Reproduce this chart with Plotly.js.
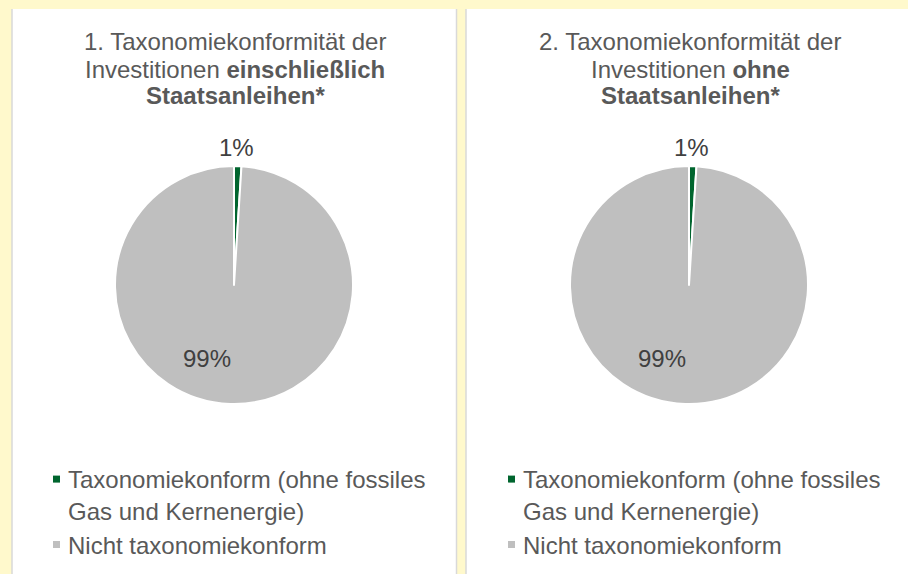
<!DOCTYPE html>
<html>
<head>
<meta charset="utf-8">
<script src="https://cdn.plot.ly/plotly-3.0.1.min.js"></script>
<style>html,body{margin:0;padding:0;background:#FFF9CC;}#chart{width:908px;height:574px;}</style>
</head>
<body>
<div id="chart"></div>
<script>
// Data
const categories = ["Taxonomiekonform (ohne fossiles<br>Gas und Kernenergie)", "Nicht taxonomiekonform"];
const valuesWith = [1, 99];     // 1. einschließlich Staatsanleihen
const valuesWithout = [1, 99];  // 2. ohne Staatsanleihen
const colors = ["#00652E", "#BFBFBF"];
const titleLines1 = ["1. Taxonomiekonformität der", "Investitionen <b>einschließlich</b>", "<b>Staatsanleihen*</b>"];
const titleLines2 = ["2. Taxonomiekonformität der", "Investitionen <b>ohne</b>", "<b>Staatsanleihen*</b>"];

const W = 908, H = 574;
const px = v => v / W, py = v => 1 - v / H;

function pieTrace(labels, values, xdom, legendId) {
  return {
    type: 'pie',
    labels: labels,
    values: values,
    sort: false,
    direction: 'clockwise',
    rotation: 0,
    textinfo: 'none',
    hoverinfo: 'label+percent',
    marker: {colors: colors, line: {color: '#FFFFFF', width: 2}},
    domain: {x: xdom, y: [py(404), py(166)]},
    legend: legendId,
    showlegend: true
  };
}

// second chart gets its own legend; a zero-width space keeps its labels distinct
const categories2 = categories.map(c => c + '\u200B');

const traces = [
  pieTrace(categories, valuesWith, [px(115), px(353)], 'legend'),
  pieTrace(categories2, valuesWithout, [px(570), px(808)], 'legend2')
];

function pct(values, i) {
  const s = values.reduce((a, b) => a + b, 0);
  return Math.round(values[i] / s * 100) + '%';
}

const FAM = 'Liberation Sans, Arial, sans-serif';
const labelFont = {family: FAM, size: 24, color: '#404040'};
const titleFont = {family: FAM, size: 24, color: '#595959'};

const annotations = [];
const lineY = [42, 69, 96];
[[titleLines1, 235], [titleLines2, 690]].forEach(([lines, cx]) => {
  lines.forEach((t, i) => annotations.push({
    text: t, x: px(cx), y: py(lineY[i]), xref: 'paper', yref: 'paper', showarrow: false,
    font: titleFont, xanchor: 'center', yanchor: 'middle'
  }));
});
function lab(text, x, y) {
  return {text: text, x: px(x), y: py(y), xref: 'paper', yref: 'paper', showarrow: false,
          font: labelFont, xanchor: 'center', yanchor: 'middle'};
}
annotations.push(
  lab(pct(valuesWith, 0), 237, 147),
  lab(pct(valuesWith, 1), 207, 358),
  lab(pct(valuesWithout, 0), 691, 147),
  lab(pct(valuesWithout, 1), 662, 358)
);

const shapes = [
  {type: 'rect', xref: 'paper', yref: 'paper', x0: px(12), x1: px(457), y0: 0, y1: py(9), fillcolor: '#FFFFFF', line: {width: 0}, layer: 'below'},
  {type: 'rect', xref: 'paper', yref: 'paper', x0: px(466), x1: 1, y0: 0, y1: py(9), fillcolor: '#FFFFFF', line: {width: 0}, layer: 'below'},
  {type: 'line', xref: 'paper', yref: 'paper', x0: px(12), x1: px(12), y0: 0, y1: py(9), line: {color: '#D9D9D9', width: 1.5}, layer: 'below'},
  {type: 'line', xref: 'paper', yref: 'paper', x0: px(456.5), x1: px(456.5), y0: 0, y1: py(9), line: {color: '#D9D9D9', width: 1.5}, layer: 'below'},
  {type: 'line', xref: 'paper', yref: 'paper', x0: px(466), x1: px(466), y0: 0, y1: py(9), line: {color: '#D9D9D9', width: 1.5}, layer: 'below'}
];

const legendFont = {family: FAM, size: 24, color: '#595959'};

const layout = {
  width: W, height: H,
  margin: {l: 0, r: 0, t: 0, b: 0},
  paper_bgcolor: '#FFF9CC',
  plot_bgcolor: '#FFF9CC',
  showlegend: true,
  legend: {x: px(28), y: py(457), xanchor: 'left', yanchor: 'top', font: legendFont, bgcolor: 'rgba(0,0,0,0)', valign: 'top'},
  legend2: {x: px(483), y: py(457), xanchor: 'left', yanchor: 'top', font: legendFont, bgcolor: 'rgba(0,0,0,0)', valign: 'top'},
  annotations: annotations,
  shapes: shapes
};

Plotly.newPlot('chart', traces, layout, {displayModeBar: false, staticPlot: true}).then(gd => {
  // smaller legend swatches placed close to the text, as in the original
  gd.querySelectorAll('.legendpie').forEach(p => {
    p.setAttribute('d', 'M3.5,3.5H-3.5V-3.5H3.5Z');
    p.setAttribute('transform', 'translate(28.5,0)');
    p.style.strokeWidth = '0px';
  });
});
</script>
</body>
</html>
